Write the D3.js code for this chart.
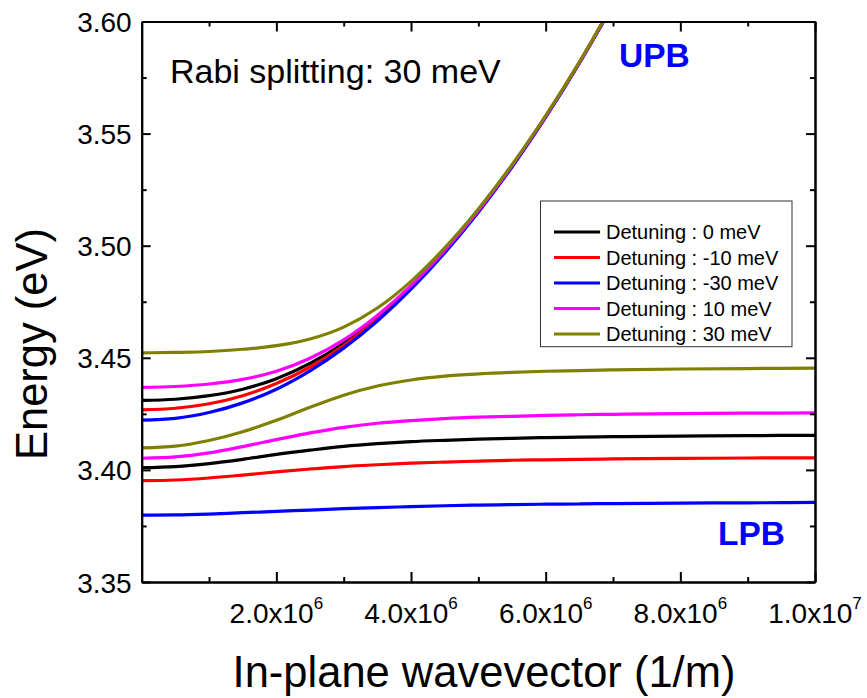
<!DOCTYPE html>
<html>
<head>
<meta charset="utf-8">
<script src="https://cdn.jsdelivr.net/npm/d3@7"></script>
<style>
  html, body { margin: 0; padding: 0; background: #fff; }
  svg { display: block; font-family: "Liberation Sans", Arial, Helvetica, sans-serif; }
</style>
</head>
<body>
<svg id="chart" width="867" height="698"></svg>
<script>
// In-plane wavevector samples (1/m)
const kUpper = [0, 5e5, 1e6, 1.5e6, 2e6, 2.5e6, 3e6, 3.5e6, 4e6, 4.5e6, 5e6, 5.5e6, 6e6, 6.5e6, 7e6];
const kLower = [0, 5e5, 1e6, 1.5e6, 2e6, 2.5e6, 3e6, 3.5e6, 4e6, 4.5e6, 5e6, 5.5e6, 6e6, 6.5e6, 7e6, 8e6, 9e6, 1e7];

// Polariton energies (eV), upper and lower branch for each detuning
const upb0   = [3.4310, 3.4315, 3.4331, 3.4360, 3.4407, 3.4475, 3.4565, 3.4680, 3.4816, 3.4975, 3.5155, 3.5355, 3.5576, 3.5816, 3.6077];
const lpb0   = [3.4010, 3.4015, 3.4028, 3.4047, 3.4069, 3.4088, 3.4105, 3.4117, 3.4126, 3.4132, 3.4137, 3.4141, 3.4144, 3.4146, 3.4148, 3.4151, 3.4153, 3.4154];
const upbM10 = [3.4268, 3.4275, 3.4295, 3.4331, 3.4385, 3.4459, 3.4555, 3.4673, 3.4812, 3.4972, 3.5153, 3.5354, 3.5575, 3.5816, 3.6076];
const lpbM10 = [3.3952, 3.3955, 3.3964, 3.3977, 3.3991, 3.4004, 3.4015, 3.4023, 3.4030, 3.4035, 3.4039, 3.4043, 3.4045, 3.4047, 3.4049, 3.4051, 3.4053, 3.4054];
const upbM30 = [3.4222, 3.4230, 3.4256, 3.4299, 3.4360, 3.4442, 3.4543, 3.4664, 3.4806, 3.4968, 3.5149, 3.5351, 3.5573, 3.5814, 3.6075];
const lpbM30 = [3.3798, 3.3799, 3.3803, 3.3809, 3.3815, 3.3821, 3.3827, 3.3832, 3.3836, 3.3840, 3.3843, 3.3845, 3.3847, 3.3848, 3.3850, 3.3852, 3.3853, 3.3855];
const upbP10 = [3.4368, 3.4372, 3.4383, 3.4404, 3.4440, 3.4498, 3.4580, 3.4689, 3.4822, 3.4979, 3.5157, 3.5357, 3.5577, 3.5817, 3.6078];
const lpbP10 = [3.4052, 3.4058, 3.4076, 3.4104, 3.4135, 3.4165, 3.4190, 3.4208, 3.4220, 3.4229, 3.4235, 3.4239, 3.4243, 3.4246, 3.4248, 3.4251, 3.4253, 3.4254];
const upbP30 = [3.4522, 3.4524, 3.4528, 3.4538, 3.4554, 3.4584, 3.4637, 3.4722, 3.4841, 3.4990, 3.5164, 3.5361, 3.5580, 3.5819, 3.6079];
const lpbP30 = [3.4098, 3.4106, 3.4131, 3.4170, 3.4221, 3.4279, 3.4333, 3.4374, 3.4401, 3.4418, 3.4428, 3.4435, 3.4440, 3.4443, 3.4446, 3.4450, 3.4452, 3.4454];

const seriesNames = ["Detuning : 0 meV", "Detuning : -10 meV", "Detuning : -30 meV", "Detuning : 10 meV", "Detuning : 30 meV"];
const seriesColors = ["#000000", "#ff0000", "#0000ff", "#ff00ff", "#808000"];
const upperBranches = [upb0, upbM10, upbM30, upbP10, upbP30];
const lowerBranches = [lpb0, lpbM10, lpbM30, lpbP10, lpbP30];

// Axis ticks
const yTicks = [3.35, 3.40, 3.45, 3.50, 3.55, 3.60];
const yMinorTicks = [3.375, 3.425, 3.475, 3.525, 3.575];
const xTicks = [2e6, 4e6, 6e6, 8e6, 1e7];
const xMinorTicks = [1e6, 3e6, 5e6, 7e6, 9e6];
const xTickMantissa = ["2.0x10", "4.0x10", "6.0x10", "8.0x10", "1.0x10"];
const xTickExponent = ["6", "6", "6", "6", "7"];

const svg = d3.select("#chart");
const plotLeft = 141.7, plotRight = 815, plotTop = 21.5, plotBottom = 582;

const x = d3.scaleLinear().domain([0, 1e7]).range([plotLeft, plotRight]);
const y = d3.scaleLinear().domain([3.35, 3.60]).range([plotBottom, plotTop]);

svg.append("rect").attr("width", 867).attr("height", 698).attr("fill", "#fff");

svg.append("defs").append("clipPath").attr("id", "plotClip")
  .append("rect").attr("x", plotLeft).attr("y", plotTop)
  .attr("width", plotRight - plotLeft).attr("height", plotBottom - plotTop);

// Curves
const line = d3.line().curve(d3.curveMonotoneX);
const curves = svg.append("g").attr("clip-path", "url(#plotClip)");
seriesNames.forEach((name, i) => {
  curves.append("path")
    .attr("d", line(kLower.map((k, j) => [x(k), y(lowerBranches[i][j])])))
    .attr("fill", "none").attr("stroke", seriesColors[i]).attr("stroke-width", 3.2);
});
seriesNames.forEach((name, i) => {
  curves.append("path")
    .attr("d", line(kUpper.map((k, j) => [x(k), y(upperBranches[i][j])])))
    .attr("fill", "none").attr("stroke", seriesColors[i]).attr("stroke-width", 3.2);
});

// Axes: all four sides, ticks pointing inward
function styleAxis(g) {
  g.select(".domain").attr("stroke", "#000").attr("stroke-width", 2);
  g.selectAll(".tick line").attr("stroke", "#000").attr("stroke-width", 2);
}
const noLabel = () => "";

svg.append("g").attr("transform", `translate(0,${plotBottom})`)
  .call(d3.axisBottom(x).tickValues(xTicks).tickSizeInner(-10).tickSizeOuter(0).tickFormat(noLabel)).call(styleAxis);
svg.append("g").attr("transform", `translate(0,${plotBottom})`)
  .call(d3.axisBottom(x).tickValues(xMinorTicks).tickSizeInner(-5).tickSizeOuter(0).tickFormat(noLabel)).call(styleAxis);
svg.append("g").attr("transform", `translate(0,${plotTop})`)
  .call(d3.axisTop(x).tickValues(xTicks).tickSizeInner(-10).tickSizeOuter(0).tickFormat(noLabel)).call(styleAxis);
svg.append("g").attr("transform", `translate(0,${plotTop})`)
  .call(d3.axisTop(x).tickValues(xMinorTicks).tickSizeInner(-5).tickSizeOuter(0).tickFormat(noLabel)).call(styleAxis);

const yAxis = svg.append("g").attr("transform", `translate(${plotLeft},0)`)
  .call(d3.axisLeft(y).tickValues(yTicks).tickSizeInner(-9).tickSizeOuter(0).tickPadding(10).tickFormat(d3.format(".2f")))
  .call(styleAxis);
yAxis.selectAll(".tick text").attr("font-size", 28).attr("fill", "#000").attr("dy", "0.36em")
  .attr("font-family", "Liberation Sans, Arial, sans-serif");
svg.append("g").attr("transform", `translate(${plotLeft},0)`)
  .call(d3.axisLeft(y).tickValues(yMinorTicks).tickSizeInner(-5).tickSizeOuter(0).tickFormat(noLabel)).call(styleAxis);
svg.append("g").attr("transform", `translate(${plotRight},0)`)
  .call(d3.axisRight(y).tickValues(yTicks).tickSizeInner(-9).tickSizeOuter(0).tickFormat(noLabel)).call(styleAxis);
svg.append("g").attr("transform", `translate(${plotRight},0)`)
  .call(d3.axisRight(y).tickValues(yMinorTicks).tickSizeInner(-5).tickSizeOuter(0).tickFormat(noLabel)).call(styleAxis);

// X tick labels in scientific notation
const xLabels = svg.append("g").attr("font-size", 28).attr("fill", "#000");
xTicks.forEach((v, i) => {
  const t = xLabels.append("text").attr("x", x(v)).attr("y", 622.7).attr("text-anchor", "middle");
  t.append("tspan").text(xTickMantissa[i]);
  t.append("tspan").attr("font-size", 17).attr("dy", -13.5).text(xTickExponent[i]);
});

// Axis titles
svg.append("text").attr("x", 484).attr("y", 687).attr("text-anchor", "middle")
  .attr("font-size", 43.5).attr("fill", "#000").text("In-plane wavevector (1/m)");
svg.append("text").attr("transform", "translate(47,344) rotate(-90)").attr("text-anchor", "middle")
  .attr("font-size", 43.5).attr("fill", "#000").text("Energy (eV)");

// Annotations
svg.append("text").attr("x", 170).attr("y", 83).attr("font-size", 34).attr("fill", "#000")
  .text("Rabi splitting: 30 meV");
svg.append("text").attr("x", 619).attr("y", 66.7).attr("font-size", 33.5).attr("font-weight", "bold")
  .attr("fill", "#0000ff").text("UPB");
svg.append("text").attr("x", 718).attr("y", 545).attr("font-size", 33.5).attr("font-weight", "bold")
  .attr("fill", "#0000ff").text("LPB");

// Legend
const legend = svg.append("g");
legend.append("rect").attr("x", 540.5).attr("y", 201).attr("width", 251.5).attr("height", 145.7)
  .attr("fill", "#fff").attr("stroke", "#333").attr("stroke-width", 1);
seriesNames.forEach((name, i) => {
  const ly = 232 + i * 25.5;
  legend.append("line").attr("x1", 554).attr("x2", 600).attr("y1", ly).attr("y2", ly)
    .attr("stroke", seriesColors[i]).attr("stroke-width", 3.2);
  legend.append("text").attr("x", 606).attr("y", ly + 7).attr("font-size", 20).attr("fill", "#000").text(name);
});
</script>
</body>
</html>
